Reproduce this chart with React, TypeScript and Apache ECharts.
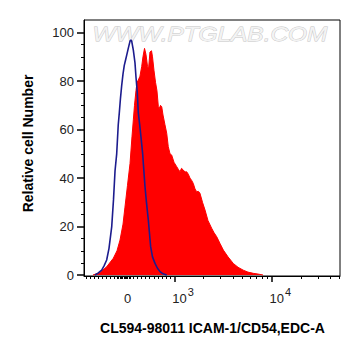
import React, { useEffect, useRef } from 'react';
import * as echarts from 'echarts';

// X positions are in display (logicle) units: 3 = 10^3, 4 = 10^4; 2.521 = 0.
const redX = [2.164, 2.236, 2.305, 2.373, 2.411, 2.442, 2.473, 2.493, 2.519, 2.545, 2.565, 2.579, 2.591, 2.606, 2.617, 2.630, 2.647, 2.665, 2.678, 2.694, 2.709, 2.725, 2.735, 2.750, 2.766, 2.776, 2.791, 2.807, 2.822, 2.836, 2.846, 2.858, 2.871, 2.884, 2.904, 2.922, 2.938, 2.956, 2.973, 2.997, 3.025, 3.043, 3.059, 3.074, 3.093, 3.110, 3.127, 3.144, 3.161, 3.179, 3.195, 3.213, 3.230, 3.249, 3.264, 3.290, 3.316, 3.346, 3.384, 3.408, 3.436, 3.470, 3.504, 3.552, 3.606, 3.655, 3.709, 3.757, 3.812, 3.860, 3.912];
const redY = [0, 1, 3.4, 6.9, 10, 14.4, 21, 28, 37, 46, 57, 64, 70, 76, 79.5, 80.4, 82, 86, 90, 93.5, 91, 86, 85, 92, 92.5, 90, 84.5, 79.5, 76, 69.5, 68.7, 70, 69.4, 66, 62, 58.5, 53, 50, 49.5, 46.5, 44.7, 43.5, 42.6, 44, 43.3, 42.5, 42.6, 41.6, 40, 39, 37.8, 35.5, 34.4, 34.5, 33.7, 30, 26.8, 22.5, 19.3, 17.5, 15.8, 13, 10.3, 7.5, 4.8, 3.2, 2, 1.2, 0.7, 0.4, 0];

const blueX = [2.185, 2.216, 2.254, 2.278, 2.305, 2.329, 2.357, 2.375, 2.391, 2.408, 2.424, 2.435, 2.447, 2.459, 2.473, 2.486, 2.498, 2.511, 2.527, 2.545, 2.555, 2.562, 2.579, 2.596, 2.606, 2.620, 2.630, 2.647, 2.665, 2.675, 2.689, 2.699, 2.714, 2.733, 2.757, 2.776, 2.802, 2.827, 2.853, 2.884, 2.922];
const blueY = [0, 0.8, 2, 3.8, 6.2, 11, 20, 31, 43, 50, 62, 67, 73, 78, 83, 86.5, 88.5, 90.7, 93.5, 96.5, 97, 96.5, 92.8, 87.5, 81.8, 75, 67, 61, 54, 50, 42, 36.4, 30, 22.7, 11.7, 7.5, 4.8, 2.8, 1.4, 0.5, 0];

const yMajorTicks = [0, 20, 40, 60, 80, 100];
const yMinorTicks = [5, 10, 15, 25, 30, 35, 45, 50, 55, 65, 70, 75, 85, 90, 95];

const xLabelValues = [2.521, 3, 4];
const xLabelExp = ['', '3', '4'];
const xMajorTicks = [3, 4];
const xMinorTicks = [
  2.100, 2.141, 2.182, 2.223, 2.264, 2.305, 2.346, 2.387,
  2.416, 2.429, 2.442, 2.455, 2.468, 2.481, 2.494, 2.507, 2.519, 2.532, 2.545,
  2.579, 2.621, 2.663, 2.705, 2.747, 2.789, 2.832, 2.874, 2.916, 2.958,
  3.301, 3.477, 3.602, 3.699, 3.778, 3.845, 3.903, 3.954,
  4.301, 4.477, 4.602, 4.699,
];

const X_MIN = 2.072;
const X_MAX = 4.703;
const Y_MIN = -0.4;
const Y_MAX = 105.2;

const FONT = "'Liberation Sans', Arial, sans-serif";

export default function App() {
  const ref = useRef<HTMLDivElement>(null);

  useEffect(() => {
    document.body.style.margin = '0';
    if (!ref.current) return;
    const chart = echarts.init(ref.current, undefined, { renderer: 'svg' });

    const nearest = (v: number) => {
      let best = 0;
      for (let i = 1; i < xLabelValues.length; i++) {
        if (Math.abs(xLabelValues[i] - v) < Math.abs(xLabelValues[best] - v)) best = i;
      }
      return best;
    };

    chart.setOption({
      animation: false,
      backgroundColor: '#fff',
      grid: {
        left: 84,
        right: 21,
        top: 20,
        bottom: 80,
        show: true,
        borderColor: '#000',
        borderWidth: 1,
        backgroundColor: 'transparent',
      },
      xAxis: [
        {
          type: 'value',
          min: X_MIN,
          max: X_MAX,
          position: 'bottom',
          axisLine: { show: true, onZero: false, lineStyle: { color: '#000', width: 1 } },
          axisTick: { show: true, customValues: xMajorTicks, length: 6, lineStyle: { color: '#000', width: 1.5 } },
          axisLabel: {
            show: true,
            customValues: xLabelValues,
            margin: 10,
            color: '#222',
            formatter: (v: number) => {
              const i = nearest(v);
              if (i === 0) return '{z|0}';
              return `{pad| }{b|10}{sup|${xLabelExp[i]}}`;
            },
            rich: {
              z: { fontSize: 13, lineHeight: 24, fontFamily: FONT, color: '#222' },
              pad: { width: 17.6, fontSize: 13, lineHeight: 24, fontFamily: FONT },
              b: { fontSize: 13, lineHeight: 24, fontFamily: FONT, color: '#222' },
              sup: { fontSize: 11, lineHeight: 11, verticalAlign: 'top', fontFamily: FONT, color: '#222', padding: [0, 0, 0, 1] },
            },
          },
          splitLine: { show: false },
        },
        {
          type: 'value',
          min: X_MIN,
          max: X_MAX,
          position: 'bottom',
          axisLine: { show: false, onZero: false },
          axisTick: { show: true, customValues: xMinorTicks, length: 3, lineStyle: { color: '#000', width: 1 } },
          axisLabel: { show: false },
          splitLine: { show: false },
        },
      ],
      yAxis: [
        {
          type: 'value',
          min: Y_MIN,
          max: Y_MAX,
          position: 'left',
          axisLine: { show: true, onZero: false, lineStyle: { color: '#000', width: 1 } },
          axisTick: { show: true, customValues: yMajorTicks, length: 7, lineStyle: { color: '#000', width: 1.5 } },
          axisLabel: {
            show: true,
            customValues: yMajorTicks,
            margin: 10,
            fontSize: 13,
            fontFamily: FONT,
            color: '#222',
          },
          splitLine: { show: false },
        },
        {
          type: 'value',
          min: Y_MIN,
          max: Y_MAX,
          position: 'left',
          axisLine: { show: false, onZero: false },
          axisTick: { show: true, customValues: yMinorTicks, length: 3, lineStyle: { color: '#000', width: 1 } },
          axisLabel: { show: false },
          splitLine: { show: false },
        },
      ],
      graphic: [
        {
          type: 'text',
          left: 92,
          top: 24,
          z: 1,
          scaleX: 1.22,
          style: {
            text: 'WWW.PTGLAB.COM',
            font: `italic 20px ${FONT}`,
            fill: '#f3f3f3',
            stroke: '#c4c4c4',
            lineWidth: 0.8,
          },
        },
        {
          type: 'text',
          x: 212.5,
          y: 328.3,
          style: {
            text: 'CL594-98011 ICAM-1/CD54,EDC-A',
            font: `bold 14px ${FONT}`,
            fill: '#000',
            align: 'center',
            verticalAlign: 'middle',
          },
        },
        {
          type: 'text',
          x: 27.5,
          y: 143.5,
          rotation: Math.PI / 2,
          style: {
            text: 'Relative cell Number',
            font: `bold 14px ${FONT}`,
            fill: '#000',
            align: 'center',
            verticalAlign: 'middle',
          },
        },
      ],
      series: [
        {
          type: 'line',
          name: 'ICAM-1/CD54',
          xAxisIndex: 0,
          yAxisIndex: 0,
          data: redX.map((x, i) => [x, redY[i]]),
          symbol: 'none',
          showSymbol: false,
          smooth: false,
          lineStyle: { color: '#ff0000', width: 1 },
          areaStyle: { color: '#ff0000', opacity: 1 },
          z: 2,
        },
        {
          type: 'line',
          name: 'Isotype control',
          xAxisIndex: 0,
          yAxisIndex: 0,
          data: blueX.map((x, i) => [x, blueY[i]]),
          symbol: 'none',
          showSymbol: false,
          smooth: false,
          lineStyle: { color: '#1c1c8e', width: 1.6 },
          z: 3,
        },
      ],
    });

    return () => {
      chart.dispose();
    };
  }, []);

  return <div ref={ref} style={{ width: 361, height: 356 }} />;
}
